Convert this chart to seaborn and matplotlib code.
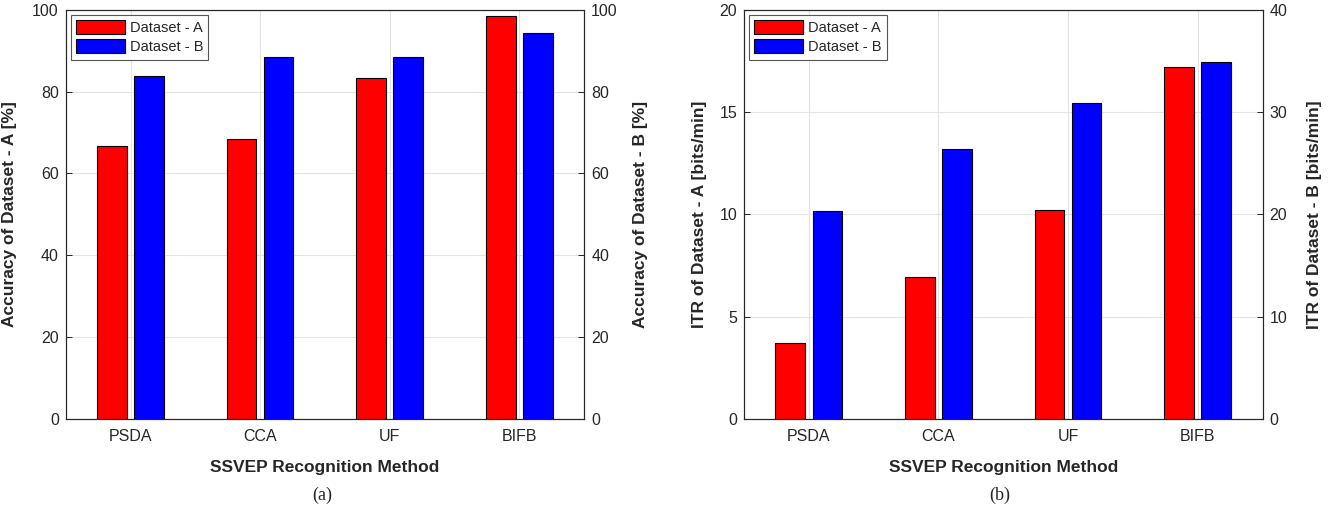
import matplotlib
matplotlib.use("Agg")
import matplotlib.pyplot as plt
import seaborn as sns
import pandas as pd

methods = ["PSDA", "CCA", "UF", "BIFB"]
series_names = ["Dataset - A", "Dataset - B"]
acc_a = [66.8, 68.4, 83.4, 98.5]
acc_b = [83.8, 88.5, 88.4, 94.2]
itr_a = [3.70, 6.93, 10.19, 17.18]
itr_b = [20.37, 26.38, 30.93, 34.88]

acc_ticks = [0, 20, 40, 60, 80, 100]
itr_a_ticks = [0, 5, 10, 15, 20]
itr_b_ticks = [0, 10, 20, 30, 40]

sns.set_style("white")
plt.rcParams["font.family"] = ["Liberation Sans", "DejaVu Sans"]

RED = "#ff0000"
BLUE = "#0000ff"
AXC = "#262626"
GRIDC = "#e3e3e3"
palette = {series_names[0]: RED, series_names[1]: BLUE}

W, H = 1328, 508
fig = plt.figure(figsize=(W / 100, H / 100), dpi=100)


def make_panel(left_px, vals_a, vals_b, ticks_a, ticks_b, ylab_a, ylab_b,
               lab_a_x, lab_b_x, caption, cap_x):
    ax = fig.add_axes([left_px / W, (H - 419) / H, 518.5 / W, 409.3 / H])
    df_a = pd.DataFrame({"method": methods, "value": vals_a,
                         "dataset": series_names[0]})
    df_b = pd.DataFrame({"method": methods, "value": vals_b,
                         "dataset": series_names[1]})
    sns.barplot(data=df_a, x="method", y="value", hue="dataset",
                hue_order=series_names, order=methods, palette=palette,
                width=0.5714, gap=0.2, dodge=True, errorbar=None,
                edgecolor="black", linewidth=0.8, saturation=1,
                legend=False, ax=ax, zorder=3)
    ax2 = ax.twinx()
    sns.barplot(data=df_b, x="method", y="value", hue="dataset",
                hue_order=series_names, order=methods, palette=palette,
                width=0.5714, gap=0.2, dodge=True, errorbar=None,
                edgecolor="black", linewidth=0.8, saturation=1,
                legend=False, ax=ax2, zorder=3)

    for a in (ax, ax2):
        a.set_xlim(-0.5, 3.5)
    ax.set_ylim(ticks_a[0], ticks_a[-1])
    ax2.set_ylim(ticks_b[0], ticks_b[-1])
    ax.set_yticks(ticks_a)
    ax2.set_yticks(ticks_b)
    ax.set_xticks(range(len(methods)))
    ax.set_xticklabels(methods)

    ax.grid(True, color=GRIDC, linewidth=0.8)
    ax.set_axisbelow(True)
    ax2.grid(False)

    for a in (ax, ax2):
        for s in a.spines.values():
            s.set_color(AXC)
            s.set_linewidth(0.8)
            s.set_visible(True)
        a.tick_params(direction="in", length=4.5, width=0.7, color=AXC,
                      labelsize=11.5, labelcolor=AXC, pad=5)
    ax.tick_params(axis="x", pad=7.5)
    ax2.tick_params(axis="y", left=False, right=True)

    ax.set_xlabel("SSVEP Recognition Method", fontsize=12.5,
                  fontweight="bold", color=AXC)
    ax.xaxis.set_label_coords(0.5, -0.100)
    ax.set_ylabel(ylab_a, fontsize=12.5, fontweight="bold", color=AXC)
    ax.yaxis.set_label_coords(lab_a_x, 0.5)
    ax2.set_ylabel(ylab_b, fontsize=12.5, fontweight="bold", color=AXC)
    ax2.yaxis.set_label_coords(lab_b_x, 0.5)

    handles = [ax.patches[0], ax2.patches[-1]]
    leg = ax2.legend(handles, series_names, loc="upper left",
                     bbox_to_anchor=(0.0095, 0.987), fontsize=10.5,
                     frameon=True, fancybox=False, edgecolor="#555555",
                     framealpha=1, handlelength=3.35, handleheight=1.1,
                     handletextpad=0.35, borderpad=0.35, labelspacing=0.3,
                     borderaxespad=0)
    leg.get_frame().set_linewidth(0.8)

    fig.text(cap_x / W, 1 - 495 / H, caption, ha="center", va="center",
             fontsize=13, family=["Liberation Serif", "DejaVu Serif"])
    return ax, ax2


make_panel(65.7, acc_a, acc_b, acc_ticks, acc_ticks,
           "Accuracy of Dataset - A [%]", "Accuracy of Dataset - B [%]",
           -0.094, 1.094, "(a)", 322)
make_panel(744.0, itr_a, itr_b, itr_a_ticks, itr_b_ticks,
           "ITR of Dataset - A [bits/min]", "ITR of Dataset - B [bits/min]",
           -0.0714, 1.0857, "(b)", 1000)

fig.savefig("out.png", dpi=100)
